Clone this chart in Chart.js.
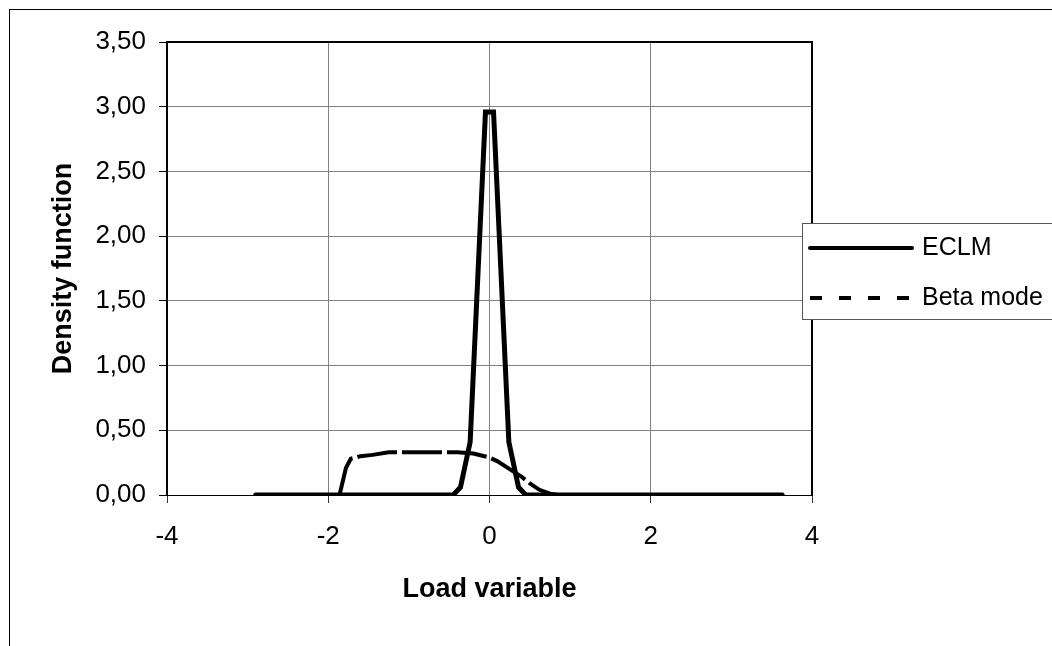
<!DOCTYPE html>
<html>
<head>
<meta charset="utf-8">
<script src="https://cdn.jsdelivr.net/npm/chart.js@4.4.1/dist/chart.umd.min.js"></script>
<style>
    html, body { margin: 0; padding: 0; background: #fff; overflow: hidden; }
    #marco { position: absolute; left: 9px; top: 9px; width: 1200px; height: 800px; border: 1px solid #000; }
    #grafica { position: absolute; left: 0; top: 0; }
</style>
</head>
<body>
<div id="marco"></div>
<canvas id="grafica" width="1052" height="646"></canvas>
<script>
const xTicks = [-4, -2, 0, 2, 4];
const yTicks = [0, 0.5, 1, 1.5, 2, 2.5, 3, 3.5];

const eclmX = [-2.9, -0.45, -0.36, -0.24, -0.05, 0.05, 0.24, 0.36, 0.45, 3.63];
const eclmY = [0, 0, 0.06, 0.41, 2.96, 2.96, 0.41, 0.06, 0, 0];

const betaX = [-1.86, -1.78, -1.72, -1.6, -1.45, -1.25, -1.0, -0.4, -0.2, 0, 0.1, 0.25, 0.4, 0.5, 0.62, 0.75, 0.85];
const betaY = [0, 0.21, 0.28, 0.30, 0.31, 0.33, 0.33, 0.33, 0.32, 0.29, 0.26, 0.20, 0.14, 0.09, 0.04, 0.01, 0];

const fuente = "'Liberation Sans', Arial, sans-serif";

function puntos(xs, ys) {
    return xs.map((x, i) => ({ x: x, y: ys[i] }));
}

/* borde superior y derecho del area de trazado */
const bordeArea = {
    id: "bordeArea",
    beforeDatasetsDraw(chart) {
        const { ctx, chartArea } = chart;
        ctx.save();
        ctx.strokeStyle = "#000";
        ctx.lineWidth = 2;
        ctx.beginPath();
        ctx.moveTo(chartArea.left, chartArea.top);
        ctx.lineTo(chartArea.right, chartArea.top);
        ctx.lineTo(chartArea.right, chartArea.bottom);
        ctx.stroke();
        ctx.restore();
    }
};

/* leyenda encima del borde derecho */
const leyenda = {
    id: "leyenda",
    afterDraw(chart) {
        const { ctx, chartArea } = chart;
        const x0 = chartArea.right - 10;
        const y0 = 223;

        ctx.save();
        ctx.fillStyle = "#fff";
        ctx.fillRect(x0, y0, 300, 96);
        ctx.strokeStyle = "#555";
        ctx.lineWidth = 1;
        ctx.strokeRect(x0 + 0.5, y0 + 0.5, 300, 96);

        chart.data.datasets.forEach((ds, i) => {
            const y = y0 + 25 + i * 50;

            ctx.beginPath();
            ctx.strokeStyle = ds.borderColor;
            ctx.lineWidth = 4;
            ctx.lineCap = ds.borderDash.length ? "butt" : "round";
            ctx.setLineDash(ds.borderDash.length ? [12, 17] : []);
            ctx.moveTo(x0 + 8, y);
            ctx.lineTo(x0 + 110, y);
            ctx.stroke();
            ctx.setLineDash([]);

            ctx.fillStyle = "#000";
            ctx.font = "25px " + fuente;
            ctx.textBaseline = "middle";
            ctx.fillText(ds.label, x0 + 120, y);
        });
        ctx.restore();
    }
};

new Chart(document.getElementById("grafica"), {

    type: "scatter",

    data: {
        datasets: [
            {
                label: "ECLM",
                data: puntos(eclmX, eclmY),
                showLine: true,
                borderColor: "#000",
                borderWidth: 5,
                borderDash: [],
                borderCapStyle: "round",
                pointRadius: 0,
                fill: false
            },
            {
                label: "Beta mode",
                data: puntos(betaX, betaY),
                showLine: true,
                borderColor: "#000",
                borderWidth: 4,
                borderDash: [40, 5],
                pointRadius: 0,
                fill: false
            }
        ]
    },

    options: {
        responsive: false,
        animation: false,
        layout: {
            padding: { left: 0, top: 42, right: 240, bottom: 26 }
        },
        plugins: {
            legend: { display: false },
            tooltip: { enabled: false }
        },
        scales: {
            x: {
                type: "linear",
                min: -4,
                max: 4,
                afterBuildTicks: s => { s.ticks = xTicks.map(v => ({ value: v })); },
                afterFit: s => { s.height = 125; },
                grid: { color: "#808080", lineWidth: 1, tickLength: 8, tickColor: "#333" },
                border: { color: "#000", width: 1 },
                ticks: {
                    color: "#000",
                    padding: 18,
                    maxRotation: 0,
                    font: { family: fuente, size: 26 }
                },
                title: {
                    display: true,
                    text: "Load variable",
                    color: "#000",
                    padding: { top: 0, bottom: 14 },
                    font: { family: fuente, size: 27, weight: "bold" }
                }
            },
            y: {
                min: 0,
                max: 3.5,
                afterBuildTicks: s => { s.ticks = yTicks.map(v => ({ value: v })); },
                afterFit: s => { s.width = 167; },
                grid: { color: "#808080", lineWidth: 1, tickLength: 8, tickColor: "#000" },
                border: { color: "#000", width: 2 },
                ticks: {
                    color: "#000",
                    padding: 13,
                    font: { family: fuente, size: 26 },
                    callback: v => v.toFixed(2).replace(".", ",")
                },
                title: {
                    display: true,
                    text: "Density function",
                    color: "#000",
                    padding: { top: 47, bottom: 0 },
                    font: { family: fuente, size: 27, weight: "bold" }
                }
            }
        }
    },

    plugins: [bordeArea, leyenda]
});
</script>
</body>
</html>
